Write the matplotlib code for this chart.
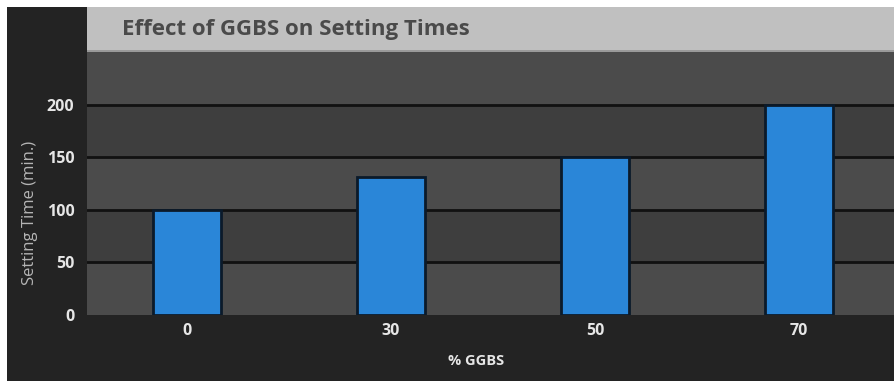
import matplotlib.pyplot as plt
from matplotlib.patches import Rectangle

ggbs = ["0", "30", "50", "70"]
setting_time = [100, 131, 150, 200]
yticks = [0, 50, 100, 150, 200]

plt.rcParams['font.family'] = ['Open Sans', 'DejaVu Sans']

W, H = 895, 381
fig = plt.figure(figsize=(W / 100, H / 100), dpi=100)
fig.patch.set_facecolor("white")

# dark outer panel and the light title strip
fig.patches.append(Rectangle((7 / W, 0), 1 - 7 / W, 1 - 7 / H, transform=fig.transFigure,
                             facecolor="#232323", edgecolor="none", zorder=0))
fig.patches.append(Rectangle((87 / W, (H - 51) / H), 1 - 87 / W, 44 / H, transform=fig.transFigure,
                             facecolor="#c0c0c0", edgecolor="none", zorder=1))
fig.patches.append(Rectangle((87 / W, (H - 52) / H), 1 - 87 / W, 2 / H, transform=fig.transFigure,
                             facecolor="#9a9a9a", edgecolor="none", zorder=1))
fig.text(122 / W, (H - 30) / H, "Effect of GGBS on Setting Times", color="#4a4a4a",
         fontsize=16, fontweight="bold", va="center", ha="left")

ax = fig.add_axes([87 / W, (H - 315) / H, (W - 87) / W, (315 - 52) / H])
ax.set_zorder(3)
ax.set_facecolor("#4b4b4b")
for lo in (50, 150):
    ax.axhspan(lo, lo + 50, color="#3e3e3e", zorder=0)
for y in yticks[1:]:
    ax.axhline(y, color="#111111", lw=2, zorder=1)

x = range(len(ggbs))
ax.bar(x, setting_time, width=0.33, color="#2a86d8", edgecolor="#0b1a2a", linewidth=2, zorder=2)

ax.set_xlim(-0.49, 3.47)
ax.set_ylim(0, 250)
ax.set_yticks(yticks)
ax.set_xticks(list(x))
ax.set_xticklabels(ggbs)
ax.tick_params(length=0, colors="#e6e6e6", labelsize=11.5)
ax.tick_params(axis="y", pad=9)
ax.tick_params(axis="x", pad=6)
for lab in ax.get_xticklabels() + ax.get_yticklabels():
    lab.set_fontweight("bold")
for s in ax.spines.values():
    s.set_visible(False)

fig.text(30 / W, (H - 213) / H, "Setting Time (min.)", rotation=90, color="#b5b5b5",
         fontsize=12, va="center", ha="center")
fig.text(476 / W, (H - 361) / H, "% GGBS", color="#e6e6e6", fontsize=10.5,
         fontweight="bold", va="center", ha="center")

fig.savefig("out.png", dpi=100, facecolor=fig.get_facecolor())
